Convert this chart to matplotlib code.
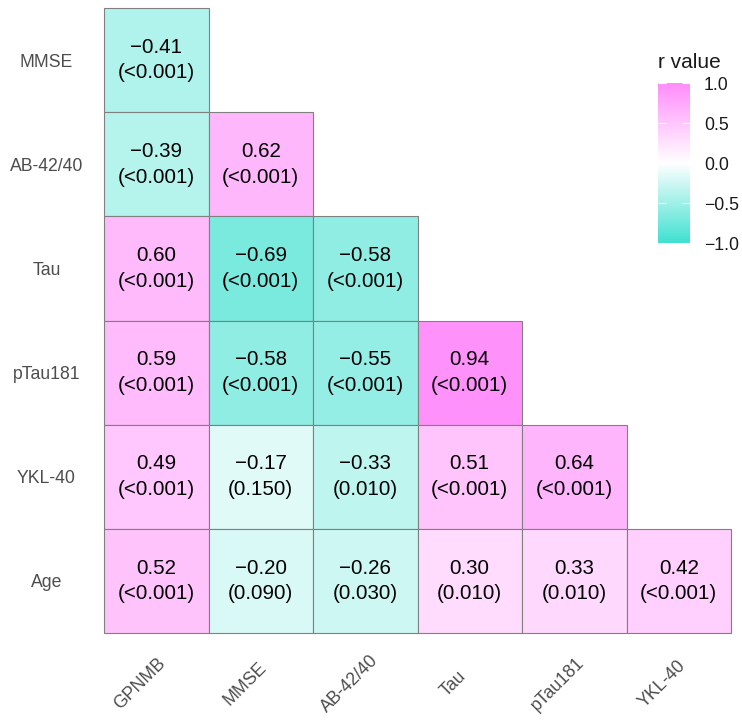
import numpy as np
import matplotlib
matplotlib.use("Agg")
import matplotlib.pyplot as plt
from matplotlib.colors import LinearSegmentedColormap, Normalize
from matplotlib.cm import ScalarMappable
from matplotlib.transforms import ScaledTranslation

plt.rcParams['font.family'] = ['Liberation Sans', 'DejaVu Sans']

# lower triangle of the correlation matrix
row_labels = ['MMSE', 'AB-42/40', 'Tau', 'pTau181', 'YKL-40', 'Age']
col_labels = ['GPNMB', 'MMSE', 'AB-42/40', 'Tau', 'pTau181', 'YKL-40']

r_mmse = [-0.41]
r_ab = [-0.39, 0.62]
r_tau = [0.60, -0.69, -0.58]
r_ptau = [0.59, -0.58, -0.55, 0.94]
r_ykl = [0.49, -0.17, -0.33, 0.51, 0.64]
r_age = [0.52, -0.20, -0.26, 0.30, 0.33, 0.42]

p_mmse = ['<0.001']
p_ab = ['<0.001', '<0.001']
p_tau = ['<0.001', '<0.001', '<0.001']
p_ptau = ['<0.001', '<0.001', '<0.001', '<0.001']
p_ykl = ['<0.001', '0.150', '0.010', '<0.001', '<0.001']
p_age = ['<0.001', '0.090', '0.030', '0.010', '0.010', '<0.001']

r_rows = [r_mmse, r_ab, r_tau, r_ptau, r_ykl, r_age]
p_rows = [p_mmse, p_ab, p_tau, p_ptau, p_ykl, p_age]

n = len(row_labels)
cmap = LinearSegmentedColormap.from_list('tw', ['#40E0D0', '#FFFFFF', '#FF8CFA'])
norm = Normalize(vmin=-1, vmax=1)
sm = ScalarMappable(norm=norm, cmap=cmap)

fig = plt.figure(figsize=(7.42, 7.23), dpi=100)
ax = fig.add_axes([104/742, 1 - 633/723, 627/742, 625/723])

for i in range(n):
    vals = r_rows[i]
    cols = np.arange(len(vals))
    ax.bar(cols + 0.5, 1, bottom=i, width=1, color=sm.to_rgba(vals),
           edgecolor='#808080', linewidth=0.8, clip_on=False)
    for j in cols:
        txt = f"{vals[j]:.2f}".replace('-', '\u2212') + "\n(" + p_rows[i][j] + ")"
        ax.text(j + 0.5, i + 0.5, txt, ha='center', va='center', fontsize=14.8,
                color='black', linespacing=1.45)

ax.set_xlim(0, n)
ax.set_ylim(n, 0)
for s in ax.spines.values():
    s.set_visible(False)

ax.set_xticks(np.arange(n) + 0.5)
ax.set_xticklabels(col_labels, rotation=45, ha='center', va='center',
                   rotation_mode='anchor', fontsize=12.7, color='#4D4D4D')
ax.set_yticks(np.arange(n) + 0.5)
ax.set_yticklabels(row_labels, fontsize=12.7, color='#4D4D4D', ha='center')
ax.tick_params(axis='x', length=0, pad=36.5)
ax.tick_params(axis='y', length=0, pad=41.5)
shift = ScaledTranslation(-16/100, 0, fig.dpi_scale_trans)
for lab in ax.get_xticklabels():
    lab.set_transform(lab.get_transform() + shift)

# legend colourbar
cax = fig.add_axes([658/742, 1 - 243/723, 32/742, 160/723])
cb = fig.colorbar(sm, cax=cax, ticks=[-1, -0.5, 0, 0.5, 1])
cb.outline.set_visible(False)
cb.ax.set_yticklabels(['\u22121.0', '\u22120.5', '0.0', '0.5', '1.0'])
cax.tick_params(left=True, right=True, labelleft=False, labelright=True,
                direction='in', length=6, width=0.8, color='white',
                labelcolor='#1A1A1A', labelsize=12.7, pad=10)
cax.set_title('r value', loc='left', fontsize=15, pad=11, color='#1A1A1A')

fig.savefig('out.png', dpi=100)
